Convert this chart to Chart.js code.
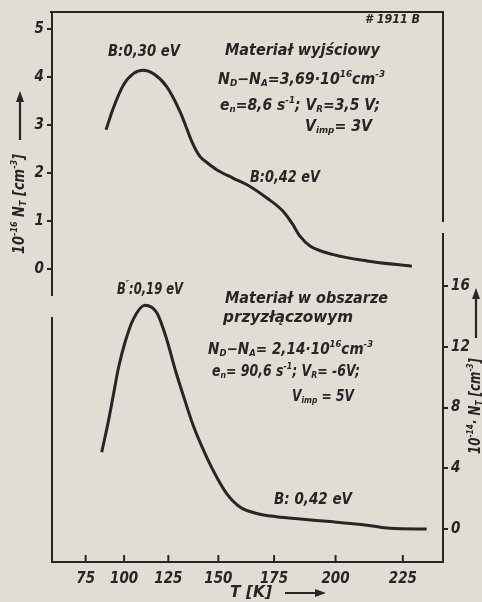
<!DOCTYPE html>
<html><head><meta charset="utf-8">
<script src="https://cdn.jsdelivr.net/npm/chart.js@4/dist/chart.umd.min.js"></script>
<style>html,body{margin:0;padding:0;background:#e1ddd5;}#wrap{width:482px;height:602px;position:relative;}</style>
</head><body><div id="wrap"><canvas id="c" width="482" height="602"></canvas></div>
<script>
// ---- data ----
const tempUpper = [88.7,93.3,99.5,105.5,111.2,116.8,124.1,131.1,137.8,141.2,144.5,149.2,157.0,164.5,171.9,178.9,182.6,185.9,189.9,199.2,211.9,228.2];
const ntUpper   = [2.90,3.35,3.83,4.07,4.14,4.07,3.80,3.28,2.59,2.34,2.22,2.07,1.89,1.72,1.48,1.20,0.95,0.68,0.48,0.30,0.17,0.06];
const tempLower = [85.9,90.1,93.3,96.4,100.5,105.5,112.2,118.7,124.1,128.5,132.8,137.8,144.4,149.2,153.9,160.0,167.5,176.1,185.9,199.2,211.9,220.4,233.4];
const ntLower   = [5.07,7.04,8.79,10.54,12.28,13.82,14.73,14.25,12.5,10.54,8.79,6.82,4.74,3.43,2.34,1.46,1.03,0.81,0.66,0.48,0.26,0.05,0.0];
const tTicks     = [75,100,125,150,175,200,225];
const leftTicks  = [0,1,2,3,4,5];
const rightTicks = [0,4,8,12,16];

const INK = '#262626';
const PAPER = '#e1ddd5';
const FONT = '"Liberation Sans Narrow","DejaVu Sans Condensed","Liberation Sans",sans-serif';

// temperature axis of the original is slightly stretched towards high T
const C = 0.003236, T0 = 75;
const warp = t => (t - T0) + C * (t - T0) * (t - T0);
const unwarp = g => T0 + (-1 + Math.sqrt(1 + 4 * C * g)) / (2 * C);
class WarpedScale extends Chart.LinearScale {
  getPixelForValue(v) {
    const a = warp(this.min), b = warp(this.max);
    return this.getPixelForDecimal((warp(v) - a) / (b - a));
  }
  getValueForPixel(p) {
    const a = warp(this.min), b = warp(this.max);
    return unwarp(a + this.getDecimalForPixel(p) * (b - a));
  }
}
WarpedScale.id = 'warpedT';
WarpedScale.defaults = Chart.LinearScale.defaults;
Chart.register(WarpedScale);

function rich(ctx, x, y, parts, size, targetW) {
  const segs = parts.map(p => typeof p === 'string' ? [p, ''] : p);
  const fontFor = m => `italic bold ${m ? size * 0.62 : size}px ${FONT}`;
  let w = 0;
  for (const [t, m] of segs) { ctx.font = fontFor(m); w += ctx.measureText(t).width; }
  ctx.save();
  ctx.translate(x, y);
  if (targetW) ctx.scale(targetW / w, 1);
  let cx = 0;
  for (const [t, m] of segs) {
    ctx.font = fontFor(m);
    const dy = m === 'sup' ? -size * 0.36 : m === 'sub' ? size * 0.26 : 0;
    ctx.fillText(t, cx, dy);
    cx += ctx.measureText(t).width;
  }
  ctx.restore();
}
function arrow(ctx, x1, y1, x2, y2) {
  const ang = Math.atan2(y2 - y1, x2 - x1);
  ctx.beginPath(); ctx.moveTo(x1, y1);
  ctx.lineTo(x2 - 8 * Math.cos(ang), y2 - 8 * Math.sin(ang)); ctx.stroke();
  ctx.beginPath();
  ctx.moveTo(x2, y2);
  ctx.lineTo(x2 - 11 * Math.cos(ang) + 4 * Math.sin(ang), y2 - 11 * Math.sin(ang) - 4 * Math.cos(ang));
  ctx.lineTo(x2 - 11 * Math.cos(ang) - 4 * Math.sin(ang), y2 - 11 * Math.sin(ang) + 4 * Math.cos(ang));
  ctx.closePath(); ctx.fill();
}

const paperPlugin = {
  id: 'paper',
  beforeDraw(chart) {
    const c = chart.ctx; c.save(); c.fillStyle = PAPER; c.fillRect(0, 0, chart.width, chart.height); c.restore();
  }
};
const framePlugin = {
  id: 'frame',
  afterDraw(chart) {
    const c = chart.ctx, a = chart.chartArea, xs = chart.scales.x;
    c.save();
    c.strokeStyle = INK; c.lineWidth = 2;
    c.beginPath(); c.moveTo(a.left - 2, a.top); c.lineTo(a.right + 1, a.top); c.stroke();
    // inward tick marks on the temperature axis
    for (const t of xs.ticks) {
      const px = xs.getPixelForValue(t.value);
      c.beginPath(); c.moveTo(px, a.bottom); c.lineTo(px, a.bottom - 7); c.stroke();
    }
    // breaks in the hand-drawn frame
    c.fillStyle = PAPER;
    c.fillRect(a.left - 3, 296, 6, 21);
    c.fillRect(a.right - 3, 222, 6, 11);
    c.restore();
  }
};
const textPlugin = {
  id: 'texts',
  afterDraw(chart) {
    const c = chart.ctx;
    c.save();
    c.fillStyle = INK; c.strokeStyle = INK; c.lineWidth = 2.2;
    c.textBaseline = 'middle'; c.textAlign = 'left';
    rich(c, 365, 20, ['# 1911 B'], 13, 55);
    rich(c, 108, 52, ['B:0,30 eV'], 15, 72);
    rich(c, 225, 51, ['Materiał wyjściowy'], 15, 155);
    rich(c, 218, 80, ['N', ['D', 'sub'], '−N', ['A', 'sub'], '=3,69·10', ['16', 'sup'], 'cm', ['-3', 'sup']], 15, 167);
    rich(c, 220, 106, ['e', ['n', 'sub'], '=8,6 s', ['-1', 'sup'], '; V', ['R', 'sub'], '=3,5 V;'], 15, 160);
    rich(c, 305, 127, ['V', ['imp', 'sub'], '= 3V'], 15, 67);
    rich(c, 250, 178, ['B:0,42 eV'], 15, 70);
    rich(c, 117, 290, ['B', ['\u2033', 'sup'], ':0,19 eV'], 15, 66);
    rich(c, 225, 299, ['Materiał w obszarze'], 15, 163);
    rich(c, 223, 318, ['przyzłączowym'], 15, 130);
    rich(c, 208, 350, ['N', ['D', 'sub'], '−N', ['A', 'sub'], '= 2,14·10', ['16', 'sup'], 'cm', ['-3', 'sup']], 15, 165);
    rich(c, 212, 372, ['e', ['n', 'sub'], '= 90,6 s', ['-1', 'sup'], '; V', ['R', 'sub'], '= -6V;'], 15, 148);
    rich(c, 292, 397, ['V', ['imp', 'sub'], ' = 5V'], 15, 62);
    rich(c, 274, 500, ['B: 0,42 eV'], 15, 78);
    rich(c, 230, 593, ['T [K]'], 16, 42);
    arrow(c, 285, 593, 326, 593);
    // left axis title
    c.save(); c.translate(20, 254); c.rotate(-Math.PI / 2);
    rich(c, 0, 0, ['10', ['-16', 'sup'], ' N', ['T', 'sub'], ' [cm', ['-3', 'sup'], ']'], 15, 100);
    c.restore();
    arrow(c, 20, 140, 20, 91);
    // right axis title
    c.save(); c.translate(476, 454); c.rotate(-Math.PI / 2);
    rich(c, 0, 0, ['10', ['-14', 'sup'], '· N', ['T', 'sub'], ' [cm', ['-3', 'sup'], ']'], 15, 96);
    c.restore();
    arrow(c, 476, 338, 476, 288);
    c.restore();
  }
};

const tickFont = { family: FONT, size: 15, style: 'italic', weight: 'bold' };
const pts = (xs, ys) => xs.map((x, i) => ({ x, y: ys[i] }));

new Chart(document.getElementById('c'), {
  type: 'line',
  data: {
    datasets: [
      { label: 'Materiał wyjściowy', data: pts(tempUpper, ntUpper), yAxisID: 'yL',
        borderColor: INK, borderWidth: 3, pointRadius: 0, cubicInterpolationMode: 'monotone', fill: false },
      { label: 'Materiał w obszarze przyzłączowym', data: pts(tempLower, ntLower), yAxisID: 'yR',
        borderColor: INK, borderWidth: 3, pointRadius: 0, cubicInterpolationMode: 'monotone', fill: false }
    ]
  },
  options: {
    responsive: false,
    animation: false,
    layout: { padding: { top: 10, left: 0, right: 0, bottom: 0 } },
    plugins: { legend: { display: false }, tooltip: { enabled: false } },
    scales: {
      x: {
        type: 'warpedT', position: 'bottom', min: 49.2, max: 239,
        afterBuildTicks: s => { s.ticks = tTicks.map(v => ({ value: v })); },
        afterFit: s => { s.height = 40; },
        grid: { drawOnChartArea: false, drawTicks: false },
        border: { display: true, color: INK, width: 2 },
        ticks: { color: INK, font: tickFont, padding: 8, maxRotation: 0, autoSkip: false, callback: v => String(v) }
      },
      yL: {
        type: 'linear', position: 'left', min: -6.10, max: 5.353,
        afterBuildTicks: s => { s.ticks = leftTicks.map(v => ({ value: v })); },
        afterFit: s => { s.width = 52; },
        grid: { drawOnChartArea: false, drawTicks: true, tickLength: 5, color: INK, lineWidth: 2 },
        border: { display: true, color: INK, width: 2 },
        ticks: { color: INK, font: tickFont, padding: 3, autoSkip: false, callback: v => String(v) }
      },
      yR: {
        type: 'linear', position: 'right', min: -2.164, max: 34.03,
        afterBuildTicks: s => { s.ticks = rightTicks.map(v => ({ value: v })); },
        afterFit: s => { s.width = 39; },
        grid: { drawOnChartArea: false, drawTicks: true, tickLength: 5, color: INK, lineWidth: 2 },
        border: { display: true, color: INK, width: 2 },
        ticks: { color: INK, font: tickFont, padding: 3, autoSkip: false, callback: v => String(v) }
      }
    }
  },
  plugins: [paperPlugin, framePlugin, textPlugin]
});
</script>
</body></html>
